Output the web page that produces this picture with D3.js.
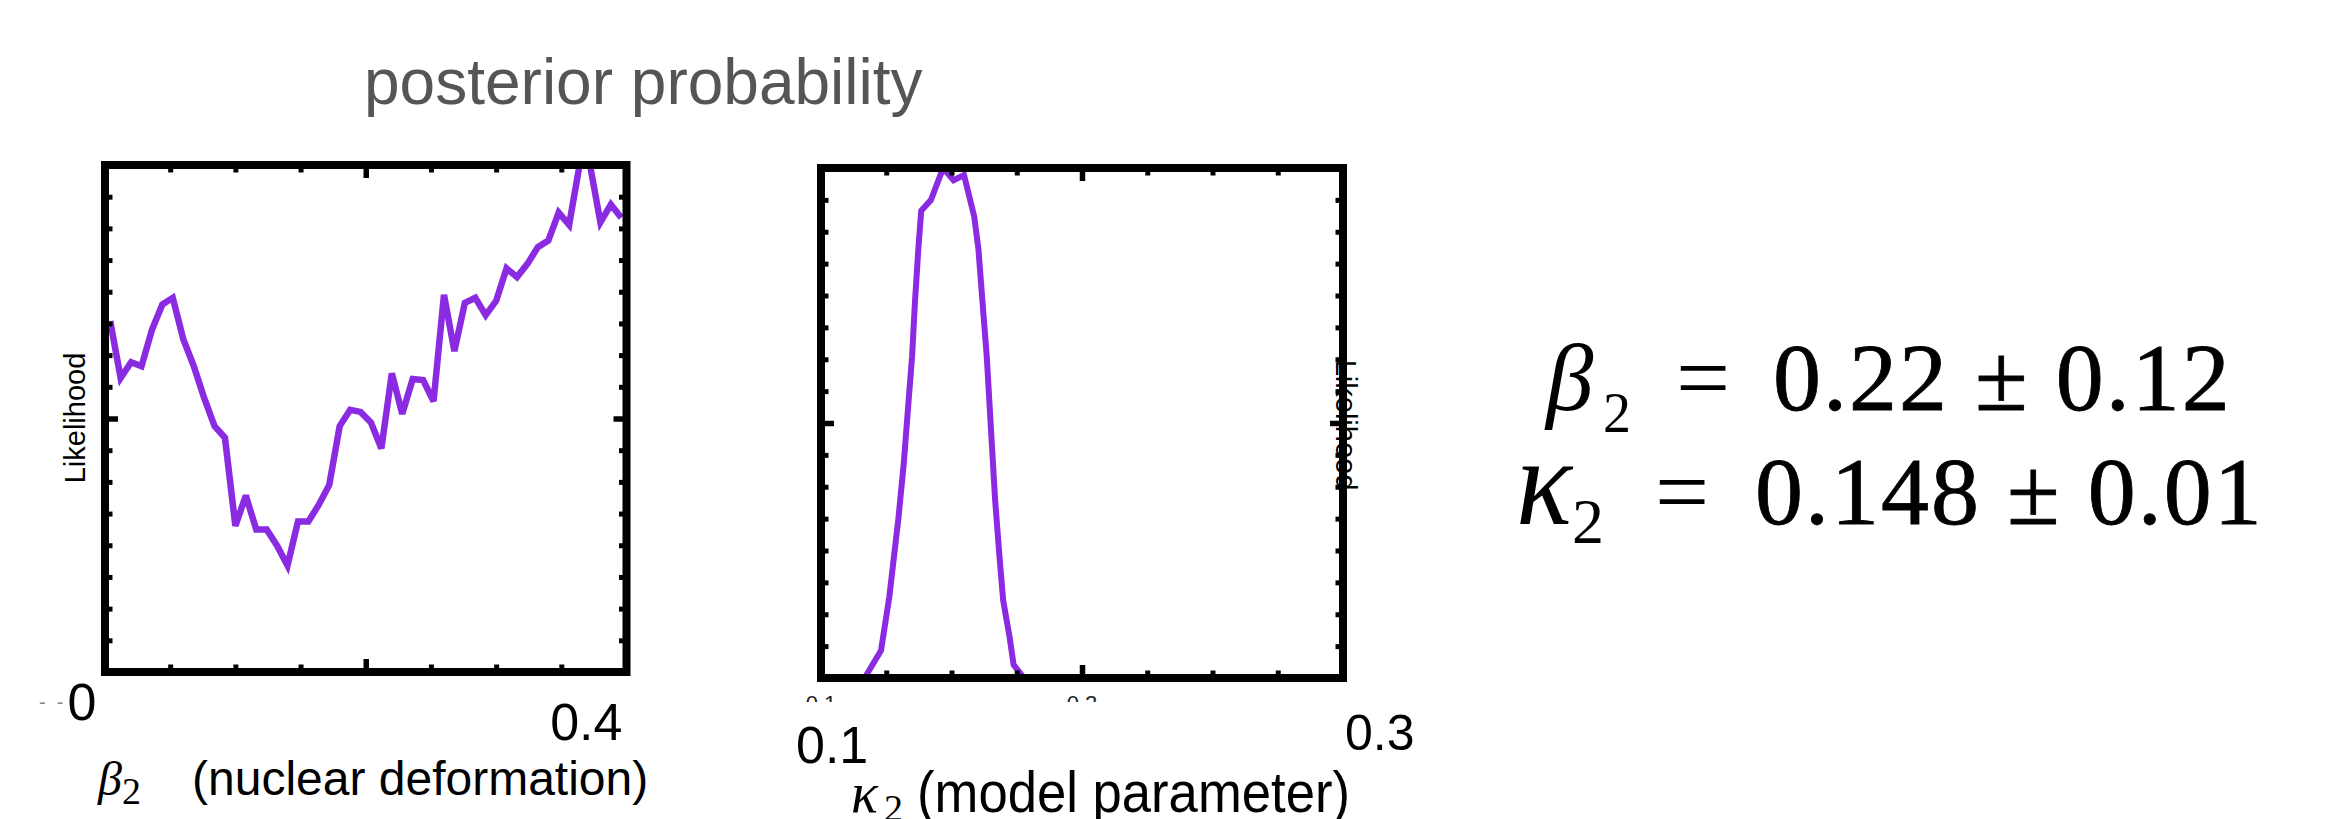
<!DOCTYPE html>
<html>
<head>
<meta charset="utf-8">
<script src="https://cdn.jsdelivr.net/npm/d3@7/dist/d3.min.js"></script>
<style>
  html, body { margin: 0; padding: 0; background: #fff; }
  svg { display: block; }
  text { font-family: "Liberation Sans", Arial, Helvetica, sans-serif; }
  .math { font-family: "Liberation Serif", "Times New Roman", serif; }
</style>
</head>
<body>
<div id="chart"></div>
<script>
// left panel: beta_2 scan
var betaValues = [0.004, 0.012, 0.020, 0.028, 0.036, 0.044, 0.052, 0.060, 0.068, 0.076,
                  0.084, 0.092, 0.100, 0.108, 0.116, 0.124, 0.132, 0.140, 0.148, 0.156,
                  0.164, 0.172, 0.180, 0.188, 0.196, 0.204, 0.212, 0.220, 0.228, 0.236,
                  0.244, 0.252, 0.260, 0.268, 0.276, 0.284, 0.292, 0.300, 0.308, 0.316,
                  0.324, 0.332, 0.340, 0.348, 0.356, 0.364, 0.372, 0.380, 0.388, 0.396];
var betaLikelihood = [0.692, 0.580, 0.611, 0.603, 0.675, 0.725, 0.738, 0.657, 0.604, 0.541,
                      0.485, 0.462, 0.288, 0.348, 0.281, 0.281, 0.249, 0.210, 0.297, 0.297,
                      0.330, 0.369, 0.485, 0.517, 0.513, 0.492, 0.441, 0.589, 0.509, 0.578,
                      0.576, 0.534, 0.744, 0.633, 0.728, 0.738, 0.704, 0.732, 0.796, 0.779,
                      0.805, 0.838, 0.851, 0.906, 0.882, 1.000, 1.000, 0.887, 0.922, 0.896];

// right panel: kappa_2 scan
var kappaValues = [0.100, 0.1167, 0.1230, 0.1262, 0.1297, 0.1317, 0.1333, 0.1349, 0.1360, 0.1373,
                   0.1384, 0.1421, 0.1468, 0.1508, 0.1548, 0.1587, 0.1603, 0.1619, 0.1635, 0.1651,
                   0.1667, 0.1683, 0.1698, 0.1722, 0.1738, 0.1778, 0.1817, 0.185, 0.300];
var kappaLikelihood = [0, 0, 0.054, 0.160, 0.315, 0.420, 0.526, 0.631, 0.737, 0.842,
                       0.916, 0.937, 1.000, 0.976, 0.986, 0.905, 0.842, 0.736, 0.631, 0.490,
                       0.350, 0.243, 0.152, 0.082, 0.026, 0, 0.002, 0, 0];

var betaTickLabels = ["0", "0.4"];
var kappaTickLabels = ["0.1", "0.3"];
var kappaSmallLabels = ["0.1", "0.2"];
var titleText = "posterior probability";
var yLabel = "Likelihood";
var resultSymbols = ["\u03B2", "\u03BA"];
var resultValues = ["0.22 \u00B1 0.12", "0.148 \u00B1 0.01"];

var likelihoodPanel = function () {

    var box = {x0: 0, y0: 0, x1: 100, y1: 100}
        , xDomain = [0, 1]
        , xStep = 0.1
        , yDivisions = 16
        , xValues = []
        , yValues = []
        , lineColor = "#8a2be2"
        , lineWidth = 6.5
        , frameWidth = 8
        , clipId = "clip"
        , xScale = d3.scaleLinear()
        , yScale = d3.scaleLinear()
        ;

    function chart(selection) {
        xScale.domain(xDomain).range([box.x0, box.x1]);
        yScale.domain([0, 1]).range([box.y1, box.y0]);

        var g = selection.append("g").attr("class", "panel");

        g.append("clipPath").attr("id", clipId)
            .append("rect")
            .attr("x", box.x0).attr("y", box.y0)
            .attr("width", box.x1 - box.x0).attr("height", box.y1 - box.y0);

        var pts = xValues.map(function(d, i) { return [d, yValues[i]]; });
        var line = d3.line()
            .x(function(d) { return xScale(d[0]); })
            .y(function(d) { return yScale(d[1]); });

        g.append("path")
            .datum(pts)
            .attr("clip-path", "url(#" + clipId + ")")
            .attr("d", line)
            .attr("fill", "none")
            .attr("stroke", lineColor)
            .attr("stroke-width", lineWidth)
            .attr("stroke-linejoin", "miter")
            .attr("stroke-miterlimit", 3);

        // inward ticks on all four sides
        var n = Math.round((xDomain[1] - xDomain[0]) / xStep);
        var xMid = (xDomain[0] + xDomain[1]) / 2;
        var xMinor = d3.range(1, n).map(function(i) { return xDomain[0] + i * xStep; })
                        .filter(function(v) { return Math.abs(v - xMid) > 1e-9; });
        var yMinor = d3.range(1, yDivisions).map(function(i) { return i / yDivisions; })
                        .filter(function(v) { return v !== 0.5; });

        ticks(g, d3.axisBottom(xScale), xMinor, [xMid], "translate(0," + box.y1 + ")");
        ticks(g, d3.axisTop(xScale), xMinor, [xMid], "translate(0," + box.y0 + ")");
        ticks(g, d3.axisLeft(yScale), yMinor, [0.5], "translate(" + box.x0 + ",0)");
        ticks(g, d3.axisRight(yScale), yMinor, [0.5], "translate(" + box.x1 + ",0)");

        g.append("rect")
            .attr("x", box.x0).attr("y", box.y0)
            .attr("width", box.x1 - box.x0).attr("height", box.y1 - box.y0)
            .attr("fill", "none")
            .attr("stroke", "#000")
            .attr("stroke-width", frameWidth);
    }

    function ticks(g, axis, minor, major, transform) {
        [[minor, -7.5, 5], [major, -13, 5.5]].forEach(function(t) {
            var a = g.append("g").attr("transform", transform)
                .call(axis.tickValues(t[0]).tickSize(t[1]).tickFormat(""));
            a.select(".domain").remove();
            a.selectAll(".tick line").attr("stroke", "#000").attr("stroke-width", t[2]);
        });
    }

    chart.box = function (_) {
        if (!arguments.length) return box;
        box = _;
        return chart;
    };
    chart.xDomain = function (_) {
        if (!arguments.length) return xDomain;
        xDomain = _;
        return chart;
    };
    chart.xStep = function (_) {
        if (!arguments.length) return xStep;
        xStep = _;
        return chart;
    };
    chart.data = function (xs, ys) {
        xValues = xs;
        yValues = ys;
        return chart;
    };
    chart.lineWidth = function (_) {
        if (!arguments.length) return lineWidth;
        lineWidth = _;
        return chart;
    };
    chart.clipId = function (_) {
        if (!arguments.length) return clipId;
        clipId = _;
        return chart;
    };
    chart.xScale = function () { return xScale; };
    chart.yScale = function () { return yScale; };

    return chart;
};

var svg = d3.select("#chart").append("svg")
    .attr("width", 2329)
    .attr("height", 819);

svg.append("text")
    .attr("x", 364).attr("y", 104)
    .attr("font-size", 64)
    .attr("fill", "#555")
    .text(titleText);

// left panel
var betaPanel = likelihoodPanel()
    .box({x0: 105, y0: 165, x1: 626.5, y1: 672})
    .xDomain([0, 0.4])
    .xStep(0.05)
    .clipId("clipBeta")
    .data(betaValues, betaLikelihood);
svg.call(betaPanel);

// right panel
var kappaPanel = likelihoodPanel()
    .box({x0: 821, y0: 168, x1: 1343, y1: 678})
    .xDomain([0.1, 0.3])
    .xStep(0.025)
    .clipId("clipKappa")
    .lineWidth(6)
    .data(kappaValues, kappaLikelihood);
svg.call(kappaPanel);

var bx = betaPanel.xScale(), kx = kappaPanel.xScale();

// y labels
svg.append("text")
    .attr("transform", "translate(85,418) rotate(-90)")
    .attr("text-anchor", "middle")
    .attr("font-size", 29)
    .text(yLabel);
svg.append("text")
    .attr("transform", "translate(1336,425) rotate(90)")
    .attr("text-anchor", "middle")
    .attr("font-size", 29)
    .text(yLabel);

// left x labels
svg.append("text")
    .attr("x", 39).attr("y", 709)
    .attr("font-size", 20)
    .attr("fill", "#888")
    .attr("xml:space", "preserve")
    .text("-  -");
svg.append("text")
    .attr("x", bx(0) - 23).attr("y", 720)
    .attr("text-anchor", "middle")
    .attr("font-size", 52)
    .text(betaTickLabels[0]);
svg.append("text")
    .attr("x", bx(0.4) - 4).attr("y", 740)
    .attr("text-anchor", "end")
    .attr("font-size", 52)
    .text(betaTickLabels[1]);

svg.append("text")
    .attr("class", "math")
    .attr("x", 98).attr("y", 795)
    .attr("font-size", 48)
    .attr("font-style", "italic")
    .text(resultSymbols[0]);
svg.append("text")
    .attr("class", "math")
    .attr("x", 122).attr("y", 804)
    .attr("font-size", 38)
    .text("2");
svg.append("text")
    .attr("x", 192).attr("y", 795)
    .attr("font-size", 48)
    .text("(nuclear deformation)");

// right x labels: the small original tick labels are half hidden
svg.append("clipPath").attr("id", "clipSmall")
    .append("rect").attr("x", 760).attr("y", 686).attr("width", 700).attr("height", 16);
svg.append("g")
    .attr("clip-path", "url(#clipSmall)")
    .selectAll("text")
    .data(kappaSmallLabels)
    .enter().append("text")
    .attr("x", function(d) { return kx(+d); })
    .attr("y", 711)
    .attr("text-anchor", "middle")
    .attr("font-size", 22)
    .attr("fill", "#222")
    .text(function(d) { return d; });

svg.append("text")
    .attr("x", kx(0.1) - 25).attr("y", 763)
    .attr("font-size", 52)
    .text(kappaTickLabels[0]);
svg.append("text")
    .attr("x", kx(0.3) + 2).attr("y", 750)
    .attr("font-size", 50)
    .text(kappaTickLabels[1]);

svg.append("text")
    .attr("class", "math")
    .attr("x", 851).attr("y", 812)
    .attr("font-size", 56)
    .attr("font-style", "italic")
    .text(resultSymbols[1]);
svg.append("text")
    .attr("class", "math")
    .attr("x", 884).attr("y", 821)
    .attr("font-size", 38)
    .text("2");
svg.append("text")
    .attr("x", 917).attr("y", 812)
    .attr("font-size", 58)
    .attr("textLength", 433)
    .attr("lengthAdjust", "spacingAndGlyphs")
    .text("(model parameter)");

// fitted results
var eq = [
    {x: 1546, sym: 95, symW: null, sub: 1603, subY: 432, subSize: 56, eqX: 1676, num: 1773, y: 410},
    {x: 1516, sym: 125, symW: 56, sub: 1572, subY: 543, subSize: 64, eqX: 1655, num: 1755, y: 524}
];
eq.forEach(function(e, i) {
    var s = svg.append("text")
        .attr("class", "math")
        .attr("x", e.x).attr("y", e.y)
        .attr("font-size", e.sym)
        .attr("font-style", "italic")
        .text(resultSymbols[i]);
    if (e.symW) s.attr("textLength", e.symW).attr("lengthAdjust", "spacingAndGlyphs");
    svg.append("text")
        .attr("class", "math")
        .attr("x", e.sub).attr("y", e.subY)
        .attr("font-size", e.subSize)
        .text("2");
    svg.append("text")
        .attr("class", "math")
        .attr("x", e.eqX).attr("y", e.y)
        .attr("font-size", 96)
        .text("=");
    svg.append("text")
        .attr("class", "math")
        .attr("x", e.num).attr("y", e.y)
        .attr("font-size", 96)
        .attr("letter-spacing", 2)
        .attr("stroke", "#000")
        .attr("stroke-width", 0.8)
        .text(resultValues[i]);
});
</script>
</body>
</html>
